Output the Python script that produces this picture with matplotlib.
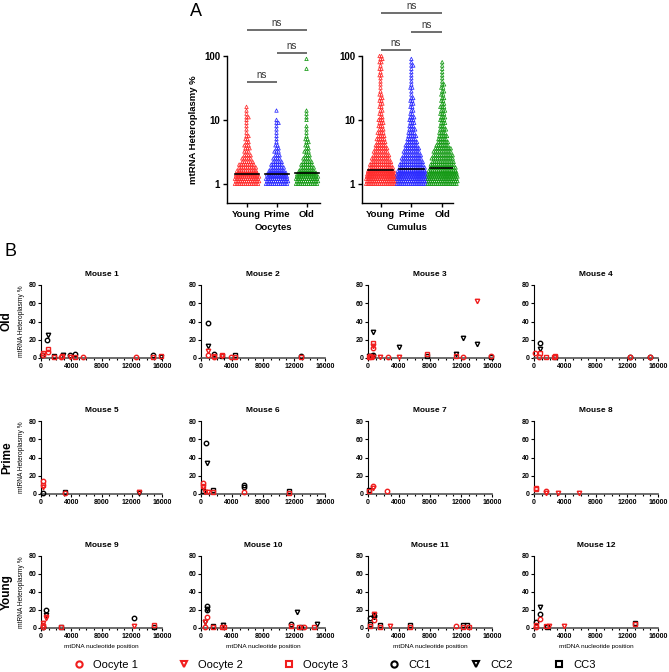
"""
Heteroplasmy figure: strip plots (A) and per-mouse variant maps (B).
"""

import numpy as np
import matplotlib
matplotlib.use("Agg")
import matplotlib.pyplot as plt
from matplotlib.lines import Line2D
from matplotlib.ticker import MultipleLocator, FixedLocator, NullLocator

plt.rcParams['font.family'] = ['Liberation Sans', 'DejaVu Sans']

W, H = 669, 672

# ─── Panel A data ────────────────────────────────────────────────────────────
groups = ['Young', 'Prime', 'Old']

# heteroplasmy levels (%) and number of variants read at each level
levels = [1.0, 1.1, 1.2, 1.3, 1.4, 1.5, 1.6, 1.8, 2.0, 2.2, 2.5, 2.8, 3.2, 3.6,
          4.0, 4.5, 5.0, 5.6, 6.3, 7.1, 8.0, 9.0, 10, 11, 12.5, 14, 16, 18,
          20, 22, 25, 28, 32, 36, 40, 45, 50, 56, 63, 71, 80, 90, 100]

ooc_young = [12, 12, 12, 12, 11, 10, 10, 9, 8, 6, 5, 4, 3, 3, 3, 2, 2, 2, 1, 1, 1,
             1, 1, 2, 1, 1, 1, 0, 0, 0, 0, 0, 0, 0, 0, 0, 0, 0, 0, 0, 0, 0, 0]
ooc_prime = [11, 11, 11, 10, 10, 9, 8, 7, 6, 5, 4, 3, 3, 2, 2, 1, 1, 1, 1, 1, 1,
             2, 1, 0, 0, 1, 0, 0, 0, 0, 0, 0, 0, 0, 0, 0, 0, 0, 0, 0, 0, 0, 0]
ooc_old = [11, 11, 11, 11, 10, 9, 8, 7, 6, 5, 4, 3, 3, 2, 2, 2, 2, 1, 1, 1, 1,
           0, 1, 1, 1, 1, 0, 0, 0, 0, 0, 0, 0, 0, 0, 0, 0, 0, 1, 0, 0, 1, 0]

cum_young = [16, 16, 16, 16, 15, 15, 14, 13, 12, 11, 10, 9, 8, 7, 6, 5, 5, 4, 4,
             3, 3, 3, 3, 2, 2, 2, 2, 2, 2, 2, 2, 1, 1, 1, 1, 1, 2, 1, 2, 1, 2, 2, 2]
cum_prime = [16, 16, 16, 16, 16, 15, 15, 14, 13, 12, 11, 10, 9, 8, 7, 6, 5, 5, 4,
             4, 3, 3, 3, 3, 2, 2, 2, 2, 2, 2, 1, 1, 2, 1, 1, 1, 1, 1, 1, 2, 1, 1, 0]
cum_old = [16, 16, 16, 16, 16, 15, 15, 14, 13, 12, 12, 11, 10, 9, 7, 6, 5, 5, 4,
           4, 3, 3, 3, 3, 3, 3, 3, 2, 2, 2, 2, 2, 2, 2, 1, 1, 1, 1, 1, 1, 1, 0, 0]

ooc_medians = [1.42, 1.42, 1.48]
cum_medians = [1.65, 1.70, 1.75]

group_colors = ['#ff2a2a', '#2a2aff', '#149a14']

# ─── Panel B data: (sample, mtDNA position, heteroplasmy %) ──────────────────
MOUSE_1 = [("CC1", 150, 3), ("CC1", 850, 19.5), ("CC2", 900, 25), ("CC3", 1700, 2.5),
           ("CC2", 2900, 3.5), ("CC1", 3900, 3), ("CC1", 4500, 4.5), ("CC1", 14800, 3.5),
           ("CC2", 15900, 1), ("O3", 300, 5), ("O1", 250, 3), ("O3", 900, 9.8),
           ("O1", 900, 6.8), ("O3", 1700, 1.5), ("O1", 2700, 1.5), ("O3", 2800, 2),
           ("O2", 3900, 1), ("O3", 4500, 1.5), ("O1", 5500, 1), ("O1", 12500, 1.2),
           ("O3", 14800, 1.5), ("O3", 15900, 2)]
MOUSE_2 = [("CC1", 850, 38.5), ("CC2", 850, 13.5), ("CC1", 1700, 4), ("CC3", 2750, 2.5),
           ("CC3", 4450, 3.5), ("CC1", 12900, 2.5), ("O2", 850, 7.5), ("O1", 850, 3),
           ("O3", 1700, 2), ("O1", 1700, 1), ("O3", 2700, 3), ("O2", 2750, 2),
           ("O1", 3900, 1.2), ("O3", 4450, 1.5), ("O3", 12900, 1.2)]
MOUSE_3 = [("CC2", 150, 2), ("CC1", 550, 2.5), ("CC2", 650, 28.5), ("CC1", 650, 3),
           ("CC2", 4000, 12.5), ("CC3", 7600, 1.8), ("CC2", 11400, 4.5), ("CC2", 12250, 21.5),
           ("CC2", 14100, 15.5), ("CC3", 15900, 1), ("O3", 100, 1.5), ("O3", 250, 1.8),
           ("O3", 400, 1.5), ("O2", 600, 1.5), ("O3", 650, 16), ("O2", 650, 13.5),
           ("O1", 650, 11.5), ("O2", 1500, 1.2), ("O1", 2600, 1.5), ("O2", 4000, 1),
           ("O3", 7600, 4), ("O3", 11400, 2), ("O1", 12300, 1.5), ("O2", 14100, 63),
           ("O1", 15900, 1.8)]
MOUSE_4 = [("CC1", 750, 16.5), ("CC2", 750, 10), ("CC3", 2650, 1), ("CC1", 12400, 1),
           ("CC1", 15000, 1), ("O1", 150, 5.7), ("O3", 750, 5.7), ("O1", 650, 1.5),
           ("O3", 1600, 1.5), ("O3", 2550, 1.5), ("O3", 2700, 1.8), ("O1", 12400, 1.5),
           ("O1", 15000, 1.5)]
MOUSE_5 = [("CC1", 250, 1.2), ("CC3", 3200, 2.5), ("CC2", 12900, 1.5), ("O1", 300, 14),
           ("O3", 300, 10), ("O2", 300, 8), ("O1", 3200, 0.8), ("O2", 12900, 2.2)]
MOUSE_6 = [("CC1", 700, 56), ("CC2", 800, 34), ("CC3", 250, 3), ("CC3", 1600, 4.5),
           ("CC1", 5500, 10), ("CC1", 5500, 7.5), ("CC3", 11300, 3.5), ("O1", 250, 12),
           ("O3", 250, 9), ("O2", 250, 7.5), ("O2", 550, 2), ("O2", 950, 2),
           ("O3", 1600, 2), ("O1", 5500, 1.8), ("O3", 11300, 1.5)]
MOUSE_7 = [("CC3", 150, 4), ("O3", 150, 3), ("O1", 650, 8.5), ("O2", 650, 7),
           ("O1", 2500, 3.2)]
MOUSE_8 = [("O3", 200, 6.5), ("O3", 250, 5.5), ("O1", 1600, 3), ("O2", 1600, 1),
           ("O2", 3050, 1), ("O2", 5800, 1)]
MOUSE_9 = [("CC1", 700, 20), ("CC2", 700, 14.5), ("CC1", 200, 1.5), ("CC3", 2600, 1.3),
           ("CC1", 12250, 11.3), ("CC3", 14900, 1.5), ("O2", 700, 12), ("O2", 700, 11),
           ("O2", 250, 5.5), ("O1", 250, 3), ("O1", 200, 1), ("O3", 2600, 1),
           ("O2", 12250, 2.3), ("O3", 14900, 3)]
MOUSE_10 = [("CC1", 750, 24), ("CC2", 750, 21.5), ("CC1", 750, 19.5), ("CC2", 500, 6.5),
            ("CC3", 1550, 2.5), ("CC2", 2800, 3), ("CC1", 11550, 4.4), ("CC2", 12350, 18),
            ("CC3", 12900, 1), ("CC2", 15000, 4.4), ("O1", 750, 12.5), ("O2", 550, 6.5),
            ("O1", 550, 1), ("O3", 1550, 1), ("O3", 2700, 1.5), ("O3", 3000, 1),
            ("O3", 11550, 2.5), ("O3", 12600, 1), ("O1", 13300, 0.8), ("O3", 14600, 0.8)]
MOUSE_11 = [("CC1", 200, 11), ("CC3", 200, 4.5), ("CC2", 750, 15), ("CC1", 750, 13),
            ("CC2", 750, 12), ("CC3", 1600, 2.8), ("CC3", 5400, 3.2), ("CC3", 12300, 3),
            ("CC3", 12800, 3), ("O3", 200, 2), ("O2", 750, 16), ("O1", 750, 8.5),
            ("O3", 1600, 1.5), ("O2", 2900, 1.8), ("O3", 5400, 1.5), ("O1", 11300, 2),
            ("O3", 12300, 1.5), ("O3", 13050, 1.5)]
MOUSE_12 = [("CC1", 200, 6.5), ("CC2", 750, 23), ("CC1", 750, 16), ("CC3", 1700, 1.2),
            ("CC3", 13000, 6), ("O3", 200, 3.5), ("O1", 200, 1.5), ("O1", 750, 10.5),
            ("O3", 1600, 2), ("O2", 1900, 2), ("O2", 3900, 2.5), ("O3", 13000, 4)]

MICE = [MOUSE_1, MOUSE_2, MOUSE_3, MOUSE_4, MOUSE_5, MOUSE_6,
        MOUSE_7, MOUSE_8, MOUSE_9, MOUSE_10, MOUSE_11, MOUSE_12]
row_names = ['Old', 'Prime', 'Young']

RED = '#f01e1e'
samples = ['O1', 'O2', 'O3', 'CC1', 'CC2', 'CC3']
sample_labels = ['Oocyte 1', 'Oocyte 2', 'Oocyte 3', 'CC1', 'CC2', 'CC3']
sample_style = {'O1': ('o', RED), 'O2': ('v', RED), 'O3': ('s', RED),
                'CC1': ('o', 'black'), 'CC2': ('v', 'black'), 'CC3': ('s', 'black')}


def fig_rect(x0, x1, ytop, ybot):
    """Pixel box -> figure fraction rect."""
    return [x0 / W, 1 - ybot / H, (x1 - x0) / W, (ybot - ytop) / H]


fig = plt.figure(figsize=(W / 100, H / 100), dpi=100)

# ─── Panel A ─────────────────────────────────────────────────────────────────
def swarm(ax, counts, center, color, step):
    xs, ys = [], []
    for i, (lev, n) in enumerate(zip(levels, counts)):
        if n == 0:
            continue
        shift = step / 2 if i % 2 else 0.0
        off = (np.arange(n) - (n - 1) / 2) * step + (shift if n > 1 else 0.0)
        xs.extend(center + off)
        ys.extend([lev] * n)
    ax.scatter(xs, ys, marker='^', s=6, facecolors='none', edgecolors=color,
               linewidths=0.55, clip_on=False, zorder=2)


def bracket(ax, x0, x1, y, text):
    ax.plot([x0, x1], [y, y], color='#555555', lw=1.2, clip_on=False,
            solid_capstyle='butt')
    ax.annotate(text, ((x0 + x1) / 2, y), xytext=(0, 1.5), textcoords='offset points',
                ha='center', va='bottom', fontsize=7, color='#333333',
                annotation_clip=False)


panelA = [
    ('Oocytes', fig_rect(227, 320, 56, 203), (-0.65, 2.45),
     [ooc_young, ooc_prime, ooc_old], ooc_medians, 0.07,
     [(0, 1, 39), (1, 2, 111), (0, 2, 254)]),
    ('Cumulus', fig_rect(362, 453, 56, 203), (-0.6, 2.35),
     [cum_young, cum_prime, cum_old], cum_medians, 0.062,
     [(0, 1, 124), (1, 2, 237), (0, 2, 465)]),
]

for name, rect, xlim, counts, medians, step, brackets in panelA:
    ax = fig.add_axes(rect)
    for k, c in enumerate(counts):
        swarm(ax, c, k, group_colors[k], step)
        ax.plot([k - 0.4, k + 0.4], [medians[k], medians[k]], color='black',
                lw=1.2, zorder=3)
    ax.set_yscale('log')
    ax.set_ylim(0.5, 100)
    ax.set_xlim(*xlim)
    ax.yaxis.set_major_locator(FixedLocator([1, 10, 100]))
    ax.yaxis.set_minor_locator(NullLocator())
    ax.set_yticklabels(['1', '10', '100'], fontsize=7, fontweight='bold')
    ax.set_xticks(range(3))
    ax.set_xticklabels(groups, fontsize=6.8, fontweight='bold')
    ax.set_xlabel(name, fontsize=6.8, fontweight='bold', labelpad=3)
    ax.tick_params(length=3, width=1, pad=2)
    for s in ['top', 'right']:
        ax.spines[s].set_visible(False)
    for s in ['left', 'bottom']:
        ax.spines[s].set_linewidth(1.0)
    for a, b, y in brackets:
        bracket(ax, a, b, y, 'ns')
    if name == 'Oocytes':
        ax.set_ylabel('mtRNA Heteroplasmy %', fontsize=6.8, fontweight='bold')
        ax.yaxis.set_label_coords(-29 / 93, 0.5)

fig.text(190 / W, 1 - 12 / H, 'A', fontsize=13, ha='left', va='center')
fig.text(4 / W, 1 - 252 / H, 'B', fontsize=13, ha='left', va='center')

# ─── Panel B ─────────────────────────────────────────────────────────────────
col_x = [(41, 162), (201, 325), (368, 492), (534, 658)]
row_y = [(285, 358), (421, 494), (556, 628)]

for m, points in enumerate(MICE):
    r, c = divmod(m, 4)
    ax = fig.add_axes(fig_rect(col_x[c][0], col_x[c][1], row_y[r][0], row_y[r][1]))
    for smp in ['CC1', 'CC2', 'CC3', 'O1', 'O2', 'O3']:
        pts = [(p, v) for s, p, v in points if s == smp]
        if not pts:
            continue
        mk, col = sample_style[smp]
        ax.plot([p for p, _ in pts], [v for _, v in pts], ls='none', marker=mk,
                ms=3.2, mfc='none', mec=col, mew=1.0, clip_on=False, zorder=3)
    ax.set_xlim(0, 16000)
    ax.set_ylim(0, 80)
    ax.xaxis.set_major_locator(MultipleLocator(4000))
    ax.xaxis.set_minor_locator(MultipleLocator(1000))
    ax.yaxis.set_major_locator(MultipleLocator(20))
    ax.tick_params(which='major', length=2, width=0.8, pad=1.5, labelsize=5)
    ax.tick_params(which='minor', length=1.2, width=0.8)
    for lab in ax.get_xticklabels() + ax.get_yticklabels():
        lab.set_fontweight('bold')
    for s in ['top', 'right']:
        ax.spines[s].set_visible(False)
    ax.spines['left'].set_linewidth(0.8)
    ax.spines['bottom'].set_linewidth(1.2)
    ax.spines['bottom'].set_color('#555555')
    ax.set_title(f'Mouse {m + 1}', fontsize=6, fontweight='bold', pad=6.5)
    if c == 0:
        ax.set_ylabel('mtRNA Heteroplasmy %', fontsize=4.8)
        ax.yaxis.set_label_coords(-16 / 121, 0.5)
    if r == 2:
        ax.set_xlabel('mtDNA nucleotide position', fontsize=4.6, labelpad=3)

for r, name in enumerate(row_names):
    yc = (row_y[r][0] + row_y[r][1]) / 2
    fig.text(7 / W, 1 - yc / H, name, rotation=90, fontsize=8.5,
             fontweight='bold', ha='center', va='center')

# ─── Legend ──────────────────────────────────────────────────────────────────
handles = []
for smp in samples:
    mk, col = sample_style[smp]
    handles.append(Line2D([], [], ls='none', marker=mk, ms=4.5, mfc='none',
                          mec=col, mew=1.5))
fig.legend(handles, sample_labels, loc='center', ncol=6, frameon=False,
           bbox_to_anchor=(0.5, 1 - 665 / H), fontsize=8, handlelength=1.0,
           handletextpad=0.8, columnspacing=3.6, borderpad=0, borderaxespad=0)

fig.savefig('out.png', dpi=100)
